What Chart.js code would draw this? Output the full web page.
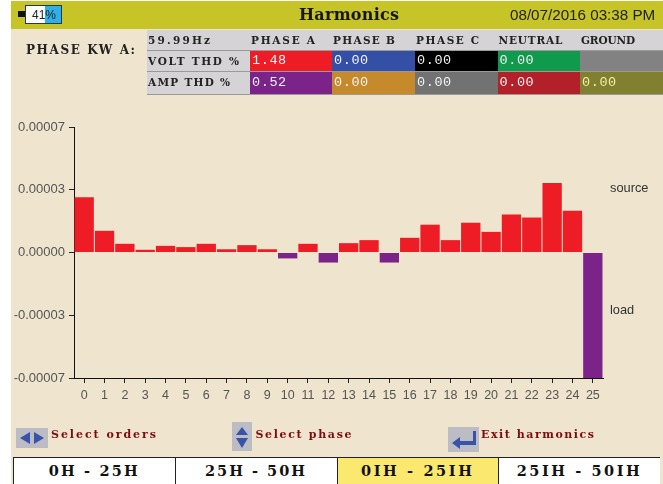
<!DOCTYPE html>
<html><head><meta charset="utf-8">
<script src="https://cdn.jsdelivr.net/npm/chart.js@4"></script>
<style>
html,body{margin:0;padding:0;background:#fff;}
body{width:663px;height:484px;position:relative;overflow:hidden;}
#panel{position:absolute;left:11px;top:1px;width:652px;height:483px;background:#efe4ce;}
canvas{position:absolute;left:0;top:0;}
.a{position:absolute;white-space:pre;}
.m{font-family:"DejaVu Serif",serif;font-weight:bold;}
#head{position:absolute;left:11px;top:1px;width:652px;height:28px;background:#c7c428;}
.c{position:absolute;box-sizing:border-box;font-family:"DejaVu Serif",serif;font-weight:bold;font-size:10.5px;white-space:pre;padding-left:1px;border-bottom:1px solid #9a9a9a;}
.h{background:#d5d3d6;color:#222;}
.v{color:#f4f4f4;font-family:"Liberation Mono",monospace;font-weight:normal;font-size:13.5px;letter-spacing:0.6px;padding-left:2px;}
.b{position:absolute;top:457px;height:27px;box-sizing:border-box;text-align:center;font-family:"DejaVu Serif",serif;font-weight:bold;font-size:14.5px;line-height:25px;color:#111;border-top:1.5px solid #222;border-left:1.5px solid #222;background:#fff;}
.s{font-size:11px;color:#7d0c10;}
svg{position:absolute;}
</style></head>
<body>
<div id="panel"></div>
<div id="head"></div>
<canvas id="chart" width="663" height="484"></canvas>

<!-- battery -->
<div class="a" style="left:18px;top:11px;width:7px;height:6px;background:#111;"></div>
<div class="a" style="left:25px;top:5px;width:37px;height:19px;box-sizing:border-box;border:1px solid #1a3a5a;background:linear-gradient(to right,#fff 0,#fff 55%,#2fb0e8 55%);"></div>
<div class="a" style="left:32px;top:8px;font:12px 'Liberation Sans';color:#222;">41%</div>
<div class="a m" data-w="100" style="left:299px;top:5px;font-size:16px;color:#161616;">Harmonics</div>
<div class="a" style="left:510px;top:6px;font:15.2px 'Liberation Sans';color:#222;">08/07/2016 03:38 PM</div>
<div class="a m" data-w="109" style="left:26px;top:43px;font-size:12px;color:#222;">PHASE KW A:</div>
<div id="table"></div>

<div class="a" style="left:610px;top:180px;font:12.8px 'Liberation Sans';color:#333;">source</div>
<div class="a" style="left:610px;top:302px;font:12.8px 'Liberation Sans';color:#333;">load</div>

<svg style="left:16px;top:428px;" width="32" height="20"><rect width="32" height="20" fill="#bcbcc4"/><path d="M4 10 L14 4 V16Z M18 4 L28 10 L18 16Z" fill="#3953a8"/></svg>
<div class="a m s" data-w="105" style="left:51px;top:428px;">Select orders</div>
<svg style="left:232px;top:422px;" width="20" height="29"><rect width="20" height="29" fill="#bcbcc4"/><path d="M10 5 L16 13 H4Z M4 16 H16 L10 26Z" fill="#3953a8"/></svg>
<div class="a m s" data-w="96" style="left:255.5px;top:428px;">Select phase</div>
<svg style="left:448px;top:427px;" width="31" height="25"><rect width="31" height="25" fill="#bcbcc4"/><path d="M25 4 H28 V18 H12 V22 L4 16 L12 10 V14 H25Z" fill="#3953a8"/></svg>
<div class="a m s" data-w="113" style="left:481px;top:428px;">Exit harmonics</div>
<div id="btns"></div>

<script>
const categories = ["0","1","2","3","4","5","6","7","8","9","10","11","12","13","14","15","16","17","18","19","20","21","22","23","24","25"];
const values = [0.0000308,0.0000121,0.00000485,0.0000015,0.0000037,0.000003,0.00000485,0.0000018,0.0000041,0.0000018,-0.0000033,0.00000485,-0.0000056,0.0000052,0.0000069,-0.0000056,0.0000082,0.0000155,0.0000069,0.0000166,0.0000115,0.0000212,0.0000195,0.0000387,0.0000233,-0.00007];
const yTickValues = [0.00007,0.000035,0,-0.000035,-0.00007];
const yTickLabels = ["0.00007","0.00003","0.00000","-0.00003","-0.00007"];

const colHeads = ["PHASE A","PHASE B","PHASE C","NEUTRAL","GROUND"];
const colHeadWidths = [64,62,63,64,54];
const rowHeads = ["59.99Hz","VOLT THD %","AMP THD %"];
const rowHeadWidths = [62,91,82];
const voltThd = ["1.48","0.00","0.00","0.00",""];
const ampThd = ["0.52","0.00","0.00","0.00","0.00"];
const voltColors = ["#ee1c25","#3450a6","#000000","#109a4c","#828282"];
const ampColors = ["#7b2389","#c58a2c","#727272","#b2202a","#808030"];
const pages = ["0H - 25H","25H - 50H","0IH - 25IH","25IH - 50IH"];
const pageWidths = [89,100,111,123];

function fitSpan(el,txt,w){
  const s=document.createElement('span');s.textContent=txt;el.textContent='';el.appendChild(s);
  const cur=s.getBoundingClientRect().width;
  s.style.letterSpacing=((w-cur)/(txt.length-1))+'px';
}
const colX = [147,250,332,415,497.5,580,663];
const rowY = [29.5,51,72,94.5];
const t = document.getElementById('table');
function cell(x0,x1,y0,y1,txt,cls,bg,fg,w){
  const d=document.createElement('div');d.className='c '+cls;d.textContent=txt;
  d.style.cssText+=`left:${x0}px;width:${x1-x0}px;top:${y0}px;height:${y1-y0}px;line-height:${y1-y0-1}px;`+(bg?`background:${bg};`:'')+(fg?`color:${fg};`:'');
  t.appendChild(d);
  if(w)fitSpan(d,txt,w);
}
rowHeads.forEach((r,i)=>cell(colX[0],colX[1],rowY[i],rowY[i+1],r,'h',null,null,rowHeadWidths[i]));
colHeads.forEach((h,i)=>{
  cell(colX[i+1],colX[i+2],rowY[0],rowY[1],h,'h',null,null,colHeadWidths[i]);
  cell(colX[i+1],colX[i+2],rowY[1],rowY[2],voltThd[i],'v',voltColors[i]);
  cell(colX[i+1],colX[i+2],rowY[2],rowY[3],ampThd[i],'v',ampColors[i],i==4?'#f2f0a8':null);
});
const btnX=[13,174.5,336.5,498,660];
const bb=document.getElementById('btns');
pages.forEach((p,i)=>{
  const d=document.createElement('div');d.className='b';
  d.style.left=btnX[i]+'px';d.style.width=(btnX[i+1]-btnX[i])+'px';
  if(i==2)d.style.background='#fbe96f';
  bb.appendChild(d);
  fitSpan(d,p,pageWidths[i]);
});
document.querySelectorAll('[data-w]').forEach(e=>fitSpan(e,e.textContent,+e.dataset.w));

const SOURCE='#ee1c25', LOAD='#7b2389';
new Chart(document.getElementById('chart'),{
  type:'bar',
  data:{labels:categories,datasets:[{data:values,
    backgroundColor:c=>c.raw<0?LOAD:SOURCE,
    barPercentage:0.95,categoryPercentage:1}]},
  options:{
    responsive:false,animation:false,
    layout:{padding:{left:0,top:127,right:60,bottom:0}},
    plugins:{legend:{display:false},tooltip:{enabled:false}},
    scales:{
      x:{offset:true,
        grid:{offset:false,drawOnChartArea:false,drawTicks:true,tickLength:5,color:'#222'},
        border:{color:'#111',width:1},
        ticks:{autoSkip:false,maxRotation:0,padding:5,color:'#555',font:{family:'Liberation Sans',size:12.5}},
        afterFit(s){s.height=106;}
      },
      y:{min:-0.00007,max:0.00007,
        grid:{drawOnChartArea:false,drawTicks:true,tickLength:5,color:'#222'},
        border:{color:'#111',width:1},
        afterBuildTicks(s){s.ticks=yTickValues.map(v=>({value:v}));},
        ticks:{autoSkip:false,padding:4,color:'#555',font:{family:'Liberation Sans',size:13},
          callback:(v,i)=>yTickLabels[i]},
        afterFit(s){s.width=74;}
      }
    }
  }
});
</script>
</body></html>
